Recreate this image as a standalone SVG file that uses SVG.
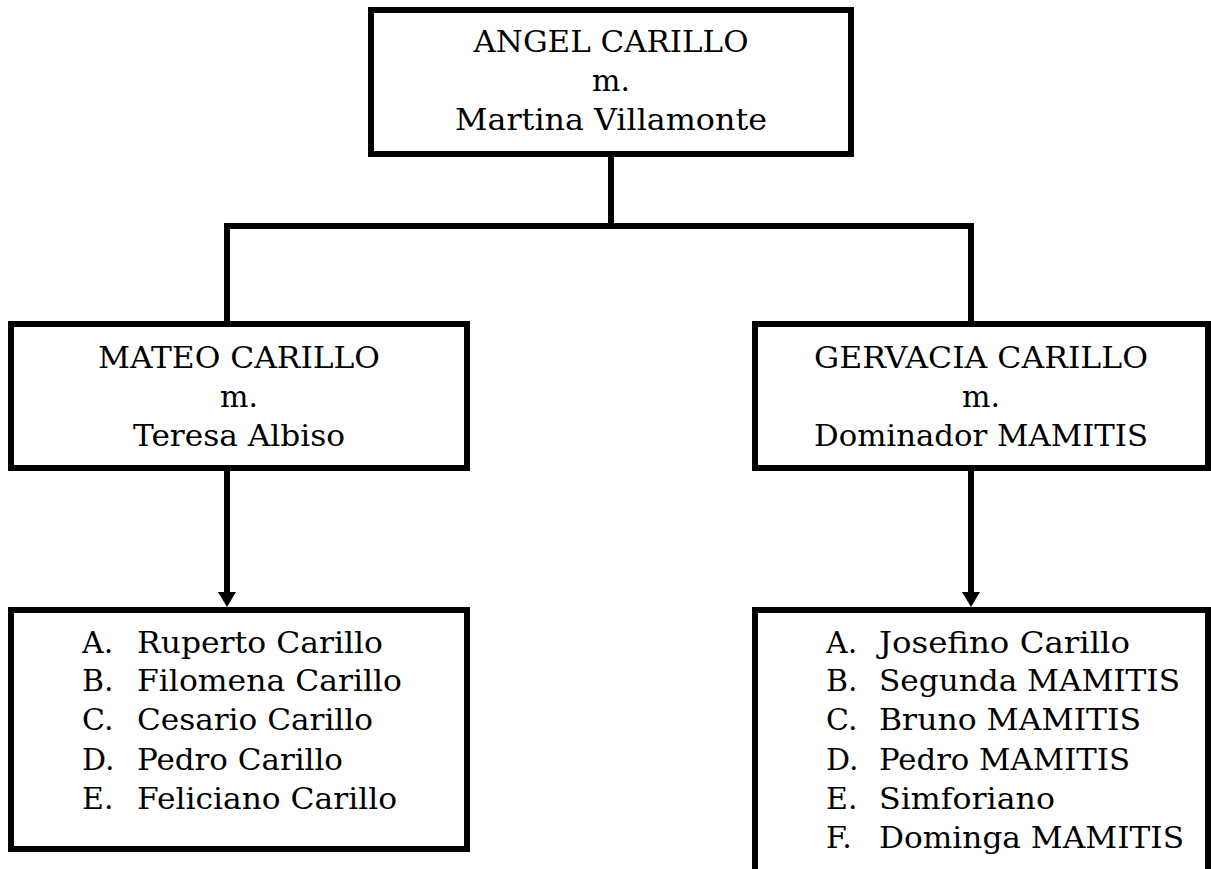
<svg xmlns="http://www.w3.org/2000/svg" width="1211" height="869" viewBox="0 0 1211 869">
<style>
.box{fill:#fff;stroke:#000;stroke-width:6}
.conn{fill:none;stroke:#000;stroke-width:6;stroke-linejoin:miter}
text{font-family:"DejaVu Serif","Liberation Serif",serif;font-size:30px;fill:#000}
.c{text-anchor:middle}
</style>
<defs>
<marker id="arr" viewBox="0 0 15 18" markerWidth="15" markerHeight="18" refX="3" refY="9" orient="auto" markerUnits="userSpaceOnUse">
<path d="M0,0 L15,9 L0,18 Z" fill="#000"/>
</marker>
</defs>
<rect width="1211" height="869" fill="#fff"/>
<g id="connectors">
<path class="conn" d="M611,157 V226"/>
<path class="conn" d="M227,324 V226 H971 V324"/>
<path class="conn" d="M227,471 V595" marker-end="url(#arr)"/>
<path class="conn" d="M971,471 V595" marker-end="url(#arr)"/>
</g>
<g id="angel">
<rect class="box" x="371" y="10" width="480" height="144"/>
<text class="c" x="611" y="52" textLength="275" lengthAdjust="spacingAndGlyphs">ANGEL CARILLO</text>
<text class="c" x="611" y="91">m.</text>
<text class="c" x="611" y="130" textLength="312" lengthAdjust="spacingAndGlyphs">Martina Villamonte</text>
</g>
<g id="mateo">
<rect class="box" x="11" y="324" width="456" height="144"/>
<text class="c" x="239" y="368" textLength="282" lengthAdjust="spacingAndGlyphs">MATEO CARILLO</text>
<text class="c" x="239" y="407">m.</text>
<text class="c" x="239" y="446" textLength="212" lengthAdjust="spacingAndGlyphs">Teresa Albiso</text>
</g>
<g id="gervacia">
<rect class="box" x="755" y="324" width="453" height="144"/>
<text class="c" x="981" y="368" textLength="334" lengthAdjust="spacingAndGlyphs">GERVACIA CARILLO</text>
<text class="c" x="981" y="407">m.</text>
<text class="c" x="981" y="446" textLength="334" lengthAdjust="spacingAndGlyphs">Dominador MAMITIS</text>
</g>
<g id="mateo-children">
<rect class="box" x="11" y="610" width="456" height="239"/>
<text x="82" y="653">A.</text><text x="137" y="653" textLength="246" lengthAdjust="spacingAndGlyphs">Ruperto Carillo</text>
<text x="82" y="691">B.</text><text x="137" y="691" textLength="265" lengthAdjust="spacingAndGlyphs">Filomena Carillo</text>
<text x="82" y="730">C.</text><text x="137" y="730" textLength="236" lengthAdjust="spacingAndGlyphs">Cesario Carillo</text>
<text x="82" y="770">D.</text><text x="137" y="770" textLength="206" lengthAdjust="spacingAndGlyphs">Pedro Carillo</text>
<text x="82" y="809">E.</text><text x="137" y="809" textLength="260" lengthAdjust="spacingAndGlyphs">Feliciano Carillo</text>
</g>
<g id="gervacia-children">
<rect class="box" x="755" y="610" width="453" height="300"/>
<text x="826" y="653">A.</text><text x="879" y="653" textLength="251" lengthAdjust="spacingAndGlyphs">Josefino Carillo</text>
<text x="826" y="691">B.</text><text x="879" y="691" textLength="301" lengthAdjust="spacingAndGlyphs">Segunda MAMITIS</text>
<text x="826" y="730">C.</text><text x="879" y="730" textLength="262" lengthAdjust="spacingAndGlyphs">Bruno MAMITIS</text>
<text x="826" y="770">D.</text><text x="879" y="770" textLength="251" lengthAdjust="spacingAndGlyphs">Pedro MAMITIS</text>
<text x="826" y="809">E.</text><text x="879" y="809" textLength="176" lengthAdjust="spacingAndGlyphs">Simforiano</text>
<text x="826" y="848">F.</text><text x="879" y="848" textLength="305" lengthAdjust="spacingAndGlyphs">Dominga MAMITIS</text>
</g>
</svg>
